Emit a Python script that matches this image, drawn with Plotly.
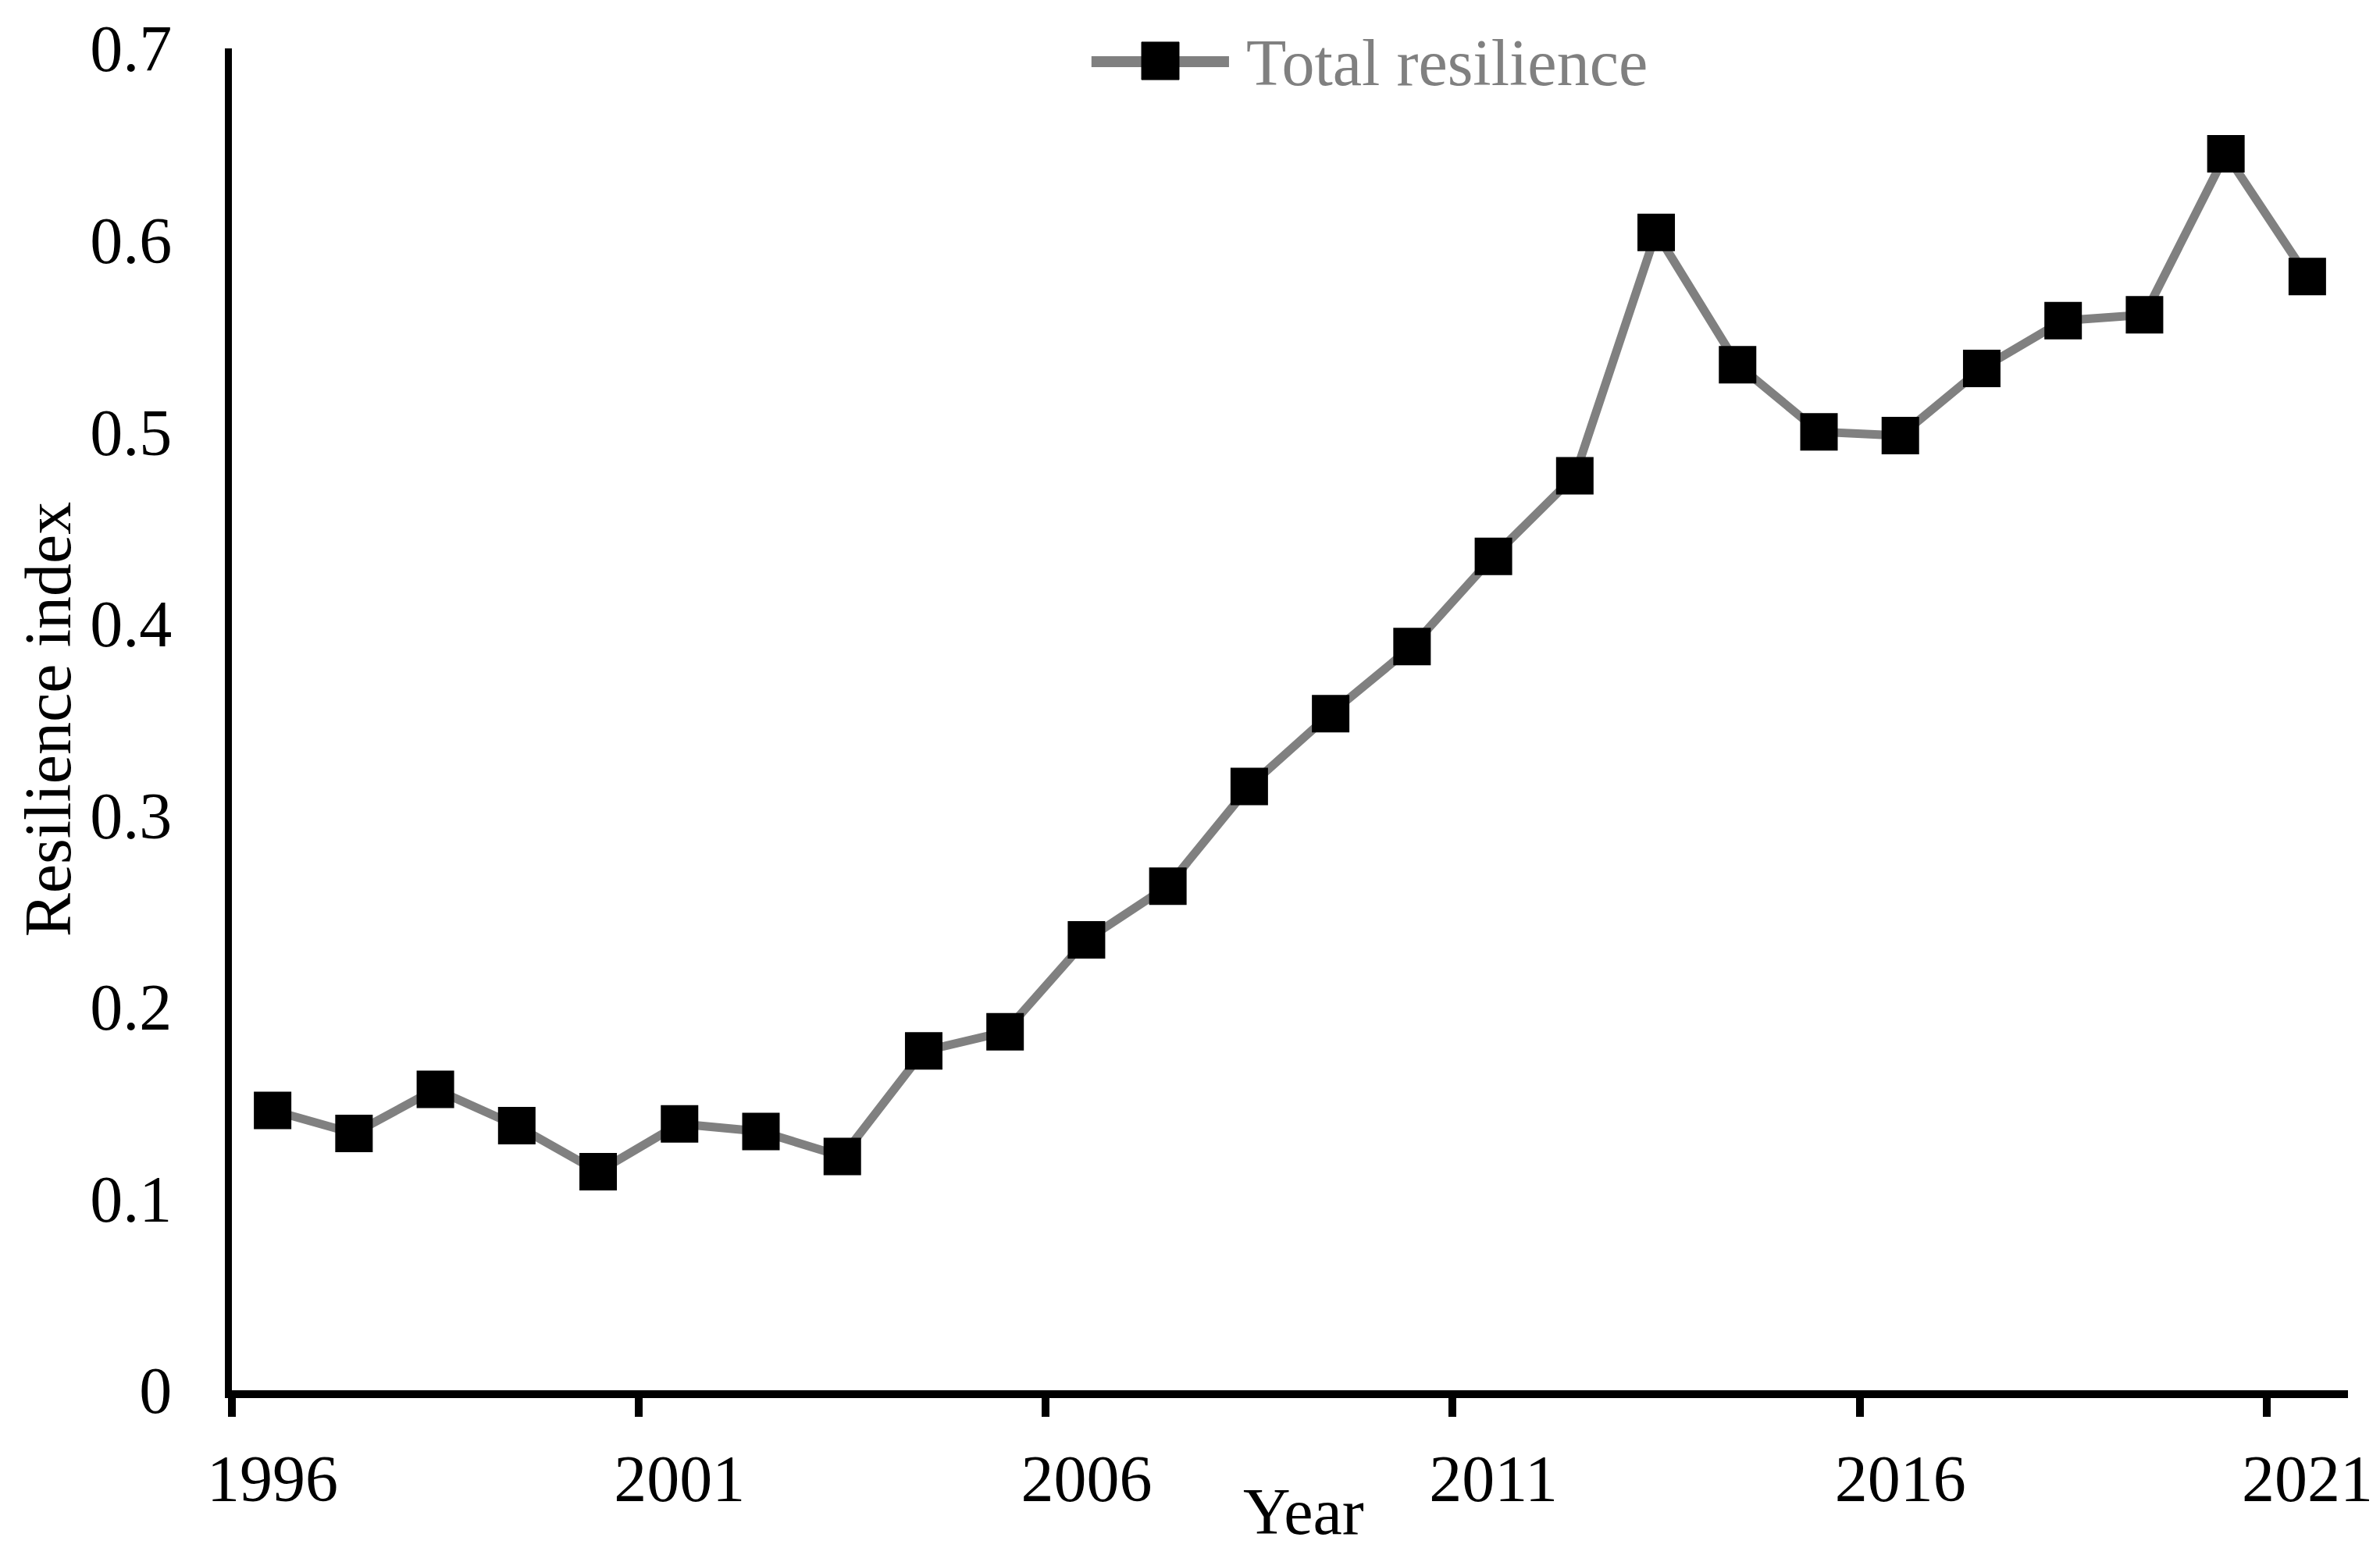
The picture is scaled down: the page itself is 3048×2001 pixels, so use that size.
import plotly.graph_objects as go

# data
years = list(range(1996, 2022))
resilience = [0.146, 0.134, 0.157, 0.138, 0.114, 0.139, 0.135, 0.122, 0.177, 0.187,
              0.235, 0.263, 0.315, 0.353, 0.388, 0.435, 0.477, 0.604, 0.535, 0.500,
              0.498, 0.533, 0.558, 0.561, 0.645, 0.581]
tick_years = [1996, 2001, 2006, 2011, 2016, 2021]
y_ticks = [0, 0.1, 0.2, 0.3, 0.4, 0.5, 0.6, 0.7]
y_labels = ["0", "0.1", "0.2", "0.3", "0.4", "0.5", "0.6", "0.7"]

FONT = "Liberation Serif"
GRAY = "#808080"
FS = 84

fig = go.Figure()

fig.add_trace(go.Scatter(
    x=years, y=resilience, mode="lines+markers", name="Total resilience",
    line=dict(color=GRAY, width=11),
    marker=dict(symbol="square", size=45, color="black", line=dict(color="black", width=3)),
    showlegend=False,
))

# hand-made legend so the symbol keeps the chart's size
fig.add_shape(type="line", xref="paper", yref="paper", x0=0.4062, x1=0.4712, y0=0.9901, y1=0.9901,
              line=dict(color=GRAY, width=14))
fig.add_shape(type="rect", xref="paper", yref="paper", x0=0.4299, x1=0.4476, y0=0.9767, y1=1.0047,
              line=dict(color="black", width=1), fillcolor="black")
fig.add_annotation(text="Total resilience", xref="paper", yref="paper", x=0.4785, y=0.9895,
                   xanchor="left", yanchor="middle", showarrow=False,
                   font=dict(family=FONT, size=FS, color=GRAY))

fig.add_annotation(text="Year", xref="paper", yref="paper", x=0.5063, y=-0.0907,
                   xanchor="center", yanchor="middle", showarrow=False,
                   font=dict(family=FONT, size=FS, color="black"))

# tick marks sit between categories, labels sit on them
boundaries = [y - 0.5 for y in tick_years]

# page body has an 8px margin, so the figure is 16px smaller than the window
fig.update_layout(
    width=3040, height=1993,
    margin=dict(l=289, r=41, t=54, b=220),
    paper_bgcolor="white", plot_bgcolor="white",
    font=dict(family=FONT, size=FS, color="black"),
    xaxis=dict(
        range=[1995.5, 2021.5], automargin=False,
        tickmode="array", tickvals=tick_years, ticktext=[str(t) for t in tick_years],
        ticks="", tickangle=0,
        minor=dict(tickmode="array", tickvals=boundaries, ticks="outside",
                   ticklen=24, tickwidth=10, tickcolor="black", showgrid=False),
        showline=True, linecolor="black", linewidth=10,
        showgrid=False, zeroline=False,
        ticklabelstandoff=31,
        tickfont=dict(family=FONT, size=FS),
    ),
    yaxis=dict(
        range=[0, 0.7], automargin=False,
        tickmode="array", tickvals=y_ticks, ticktext=y_labels,
        ticks="", showline=True, linecolor="black", linewidth=9,
        showgrid=False, zeroline=False,
        ticklabelstandoff=51,
        tickfont=dict(family=FONT, size=FS),
        title=dict(text="Resilience index", standoff=0, font=dict(family=FONT, size=FS)),
    ),
)

fig.write_html("out.html")
